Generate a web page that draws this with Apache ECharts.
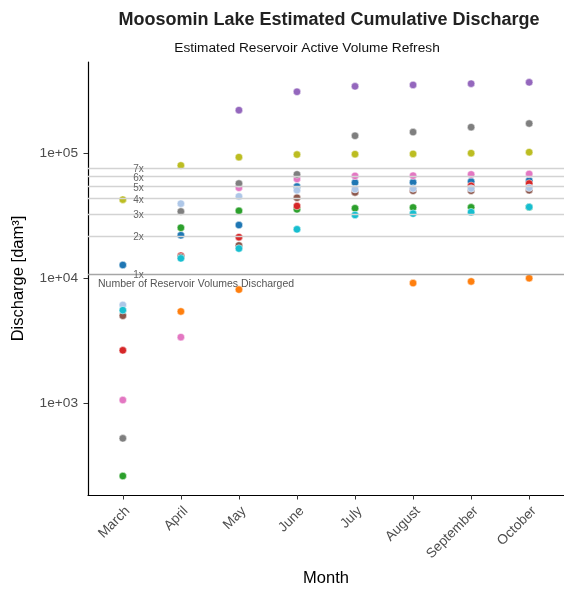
<!DOCTYPE html>
<html><head><meta charset="utf-8">
<script src="https://cdn.jsdelivr.net/npm/echarts@6/dist/echarts.min.js"></script>
<style>html,body{margin:0;padding:0;background:#fff}#c{width:564px;height:592px}</style>
</head><body><div id="c"></div>
<script>
const months = ['March','April','May','June','July','August','September','October'];
const yTicks = [1000, 10000, 100000];
const reservoirVolume = 10800;
const multiples = [1, 2, 3, 4, 5, 6, 7];

const blueValues      = [12700, 21960, 26500, 53800, 57900, 58200, 59000, 60100];
const orangeValues    = [null, 5400, 8070, null, null, 9100, 9380, 9960];
const greenValues     = [261, 25200, 34400, 35400, 36100, 36600, 36700, 36700];
const redValues       = [2640, 15070, 21200, 37600, 49000, 51000, 54500, 56900];
const purpleValues    = [null, null, 219600, 307900, 340600, 349400, 357600, 366600];
const brownValues     = [4990, 14700, 18200, 43800, 48300, 49800, 49800, 50300];
const lightblueValues = [6090, 39300, 44900, 50300, 51300, 51900, 51900, 52600];
const pinkValues      = [1057, 3365, 52600, 61900, 65500, 65800, 67300, 67900];
const grayValues      = [522, 34000, 56900, 67300, 137000, 146600, 160600, 171800];
const oliveValues     = [42300, 79400, 92500, 97000, 97700, 98200, 99500, 101300];
const cyanValues      = [5530, 14350, 17200, 24500, 31900, 32700, 33600, 36900];

const seriesDefs = [
  {name: 'Blue', color: '#1f77b4', values: blueValues},
  {name: 'Orange', color: '#ff7f0e', values: orangeValues},
  {name: 'Green', color: '#2ca02c', values: greenValues},
  {name: 'Red', color: '#d62728', values: redValues},
  {name: 'Purple', color: '#9467bd', values: purpleValues},
  {name: 'Brown', color: '#8c564b', values: brownValues},
  {name: 'Light blue', color: '#aec7e8', values: lightblueValues},
  {name: 'Pink', color: '#e377c2', values: pinkValues},
  {name: 'Gray', color: '#7f7f7f', values: grayValues},
  {name: 'Olive', color: '#bcbd22', values: oliveValues},
  {name: 'Cyan', color: '#17becf', values: cyanValues}
];

const FONT = '"Liberation Sans", Arial, sans-serif';
const chart = echarts.init(document.getElementById('c'), null, {renderer: 'canvas'});

const scatterSeries = seriesDefs.map((d, i) => ({
  name: d.name,
  type: 'scatter',
  symbolSize: 7.5,
  z: 2,
  itemStyle: {color: d.color, borderColor: '#fff', borderWidth: 0.5, opacity: 1},
  data: d.values.map((v, j) => v == null ? null : [j, v]).filter(p => p)
}));

const lineSeries = {
  name: 'Reservoir volumes',
  type: 'line',
  data: [],
  z: 5,
  silent: true,
  markLine: {
    silent: true,
    symbol: ['none', 'none'],
    label: {show: false},
    animation: false,
    data: multiples.map(k => ({
      yAxis: k * reservoirVolume,
      lineStyle: {type: 'solid', width: 1.3, color: k === 1 ? '#a6a6a6' : '#d3d3d3'}
    }))
  }
};

chart.setOption({
  animation: false,
  backgroundColor: '#fff',
  grid: {left: 88, right: 0, top: 62, bottom: 92, containLabel: false},
  xAxis: {
    type: 'value',
    min: -0.6, max: 7.6,
    name: 'Month', nameLocation: 'middle', nameGap: 75,
    nameTextStyle: {fontFamily: FONT, fontSize: 16.5, color: '#000'},
    axisLine: {show: true, onZero: false, lineStyle: {color: '#000', width: 1.2}},
    axisTick: {show: true, length: 4.5, customValues: [0,1,2,3,4,5,6,7], lineStyle: {color: '#333'}},
    axisLabel: {
      customValues: [0,1,2,3,4,5,6,7],
      rotate: 45, margin: 9, align: 'right', verticalAlign: 'top',
      fontFamily: FONT, fontSize: 13.7, color: '#4d4d4d',
      formatter: v => months[Math.round(v)]
    },
    splitLine: {show: false}
  },
  yAxis: {
    type: 'log', logBase: 10,
    min: 184, max: 533000,
    name: 'Discharge [dam³]', nameLocation: 'middle', nameGap: 61,
    nameTextStyle: {fontFamily: FONT, fontSize: 16.5, color: '#000'},
    axisLine: {show: true, onZero: false, lineStyle: {color: '#000', width: 1.2}},
    axisTick: {show: true, length: 4.5, customValues: yTicks, lineStyle: {color: '#333'}},
    axisLabel: {
      customValues: yTicks,
      margin: 10, padding: [0, 0, 4, 0],
      fontFamily: FONT, fontSize: 13.7, color: '#4d4d4d',
      formatter: v => '1e+' + String(Math.round(Math.log10(v))).padStart(2, '0')
    },
    splitLine: {show: false}
  },
  series: [...scatterSeries, lineSeries]
});

const g = [
  {type: 'text', x: 329, y: 20, style: {text: 'Moosomin Lake Estimated Cumulative Discharge', font: 'bold 18px ' + FONT, fill: '#222', textAlign: 'center', textVerticalAlign: 'middle'}},
  {type: 'text', x: 307, y: 48, style: {text: 'Estimated Reservoir Active Volume Refresh', font: '13.7px ' + FONT, fill: '#111', textAlign: 'center', textVerticalAlign: 'middle'}}
];
multiples.forEach(k => {
  const p = chart.convertToPixel({gridIndex: 0}, [0.27, k * reservoirVolume]);
  g.push({type: 'text', x: p[0], y: p[1] + 1.5, z: 10, style: {text: k + 'x', font: '10px ' + FONT, fill: '#666', textAlign: 'center', textVerticalAlign: 'middle'}});
});
const p1 = chart.convertToPixel({gridIndex: 0}, [-0.6, reservoirVolume]);
g.push({type: 'text', x: p1[0] + 10, y: p1[1] + 10.5, z: 10, style: {text: 'Number of Reservoir Volumes Discharged', font: '10.5px ' + FONT, fill: '#555', textAlign: 'left', textVerticalAlign: 'middle'}});
chart.setOption({graphic: g});
</script>
</body></html>
